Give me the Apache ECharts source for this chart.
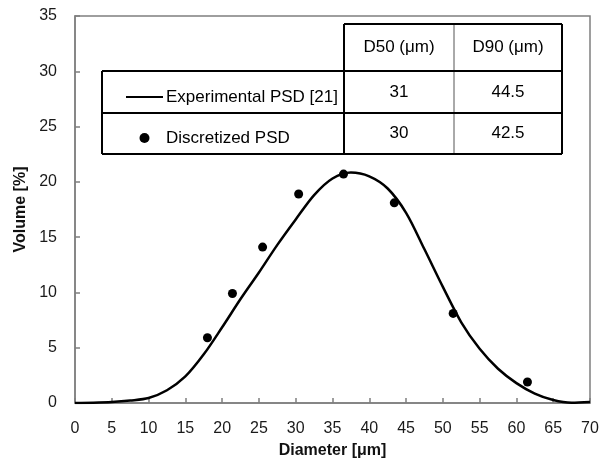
<!DOCTYPE html>
<html><head><meta charset="utf-8">
<script src="https://cdn.jsdelivr.net/npm/echarts@6/dist/echarts.min.js"></script>
<style>html,body{margin:0;padding:0;background:#fff}#c{width:606px;height:468px}</style>
</head><body><div id="c"></div>
<script>
// Experimental PSD curve (Diameter in µm, Volume in %)
const curveX = [0, 2.5, 5, 7.5, 10, 12.5, 15, 17.5, 20, 22.5, 25, 27.5, 30, 32.5, 35, 37.5, 40, 42.5, 45, 47.5, 50, 52.5, 55, 57.5, 60, 62.5, 65, 67.5, 70];
const curveY = [0, 0.02, 0.08, 0.22, 0.45, 1.15, 2.4, 4.4, 6.85, 9.4, 11.8, 14.3, 16.6, 18.8, 20.3, 20.85, 20.5, 19.4, 17.2, 13.9, 10.5, 7.3, 4.9, 3.1, 1.8, 0.85, 0.27, 0.03, 0.1];
// Discretized PSD points
const pointX = [18, 21.4, 25.5, 30.4, 36.5, 43.4, 51.4, 61.5];
const pointY = [5.9, 9.9, 14.1, 18.9, 20.7, 18.1, 8.1, 1.9];
const seriesNames = ['Experimental PSD [21]', 'Discretized PSD'];
const tableHeaders = ['D50 (μm)', 'D90 (μm)'];
const d50 = ['31', '30'];
const d90 = ['44.5', '42.5'];

const FONT = '"Liberation Sans", Arial, sans-serif';
const chart = echarts.init(document.getElementById('c'), null, {renderer: 'canvas'});

// table layout (pixels)
const colX = [102, 344, 454, 562];
const rowY = [24, 71, 113, 154];
const graphics = [];
const L = (x1, y1, x2, y2, w, c) => graphics.push({type: 'line', silent: true, z: 100,
  shape: {x1, y1, x2, y2}, style: {stroke: c || '#000', lineWidth: w || 2}});
graphics.push({type: 'rect', z: 90, silent: true, shape: {x: colX[1], y: rowY[0], width: colX[3]-colX[1], height: rowY[1]-rowY[0]}, style: {fill: '#fff'}});
graphics.push({type: 'rect', z: 90, silent: true, shape: {x: colX[0], y: rowY[1], width: colX[3]-colX[0], height: rowY[3]-rowY[1]}, style: {fill: '#fff'}});
L(colX[2], rowY[0], colX[2], rowY[3], 1, '#555');
L(colX[1], rowY[0], colX[3], rowY[0]);
L(colX[1], rowY[0], colX[1], rowY[3]);
L(colX[3], rowY[0], colX[3], rowY[3]);
L(colX[0], rowY[1], colX[3], rowY[1]);
L(colX[0], rowY[2], colX[3], rowY[2]);
L(colX[0], rowY[3], colX[3], rowY[3]);
L(colX[0], rowY[1], colX[0], rowY[3]);
const T = (txt, cx, cy) => graphics.push({type: 'text', z: 101, silent: true, x: cx, y: cy,
  style: {text: txt, fill: '#000', font: '17px ' + FONT, align: 'center', verticalAlign: 'middle'}});
tableHeaders.forEach((h, i) => T(h, (colX[i+1] + colX[i+2]) / 2, (rowY[0] + rowY[1]) / 2));
[d50, d90].forEach((col, i) => col.forEach((v, r) => T(v, (colX[i+1] + colX[i+2]) / 2, (rowY[r+1] + rowY[r+2]) / 2)));

const axisCommon = {
  axisLine: {show: true, lineStyle: {color: '#7f7f7f', width: 1.5}},
  axisTick: {show: true, inside: true, length: 5, lineStyle: {color: '#7f7f7f', width: 1.5}},
  splitLine: {show: false},
  nameLocation: 'middle',
  nameTextStyle: {fontFamily: FONT, fontSize: 16, fontWeight: 'bold', color: '#111'}
};

chart.setOption({
  animation: false,
  backgroundColor: '#fff',
  grid: {left: 75, right: 16, top: 16, bottom: 65, show: true, borderColor: '#7f7f7f', borderWidth: 1.5, outerBoundsMode: 'none', containLabel: false},
  xAxis: Object.assign({}, axisCommon, {
    type: 'value', min: 0, max: 70, interval: 5, name: 'Diameter [μm]', nameGap: 40,
    axisLabel: {fontFamily: FONT, fontSize: 16, color: '#1a1a1a', margin: 18}
  }),
  yAxis: Object.assign({}, axisCommon, {
    type: 'value', min: 0, max: 35, interval: 5, name: 'Volume [%]', nameGap: 45,
    axisLabel: {fontFamily: FONT, fontSize: 16, color: '#1a1a1a', margin: 18}
  }),
  legend: {
    orient: 'vertical', left: 120, top: 82, itemGap: 21, itemWidth: 37, itemHeight: 10,
    z: 102,
    data: [{name: seriesNames[0], itemStyle: {opacity: 0}}, {name: seriesNames[1]}],
    textStyle: {fontFamily: FONT, fontSize: 17, color: '#000', lineHeight: 20, padding: [0, 0, 0, -2]}
  },
  graphic: graphics,
  series: [
    {name: seriesNames[0], type: 'line', smooth: 0.3, showSymbol: false, symbol: 'none',
     lineStyle: {color: '#000', width: 2.5}, itemStyle: {color: '#000'},
     data: curveX.map((x, i) => [x, curveY[i]]), z: 3},
    {name: seriesNames[1], type: 'scatter', symbol: 'circle', symbolSize: 9,
     itemStyle: {color: '#000', opacity: 1}, data: pointX.map((x, i) => [x, pointY[i]]), z: 4}
  ]
});
</script></body></html>
